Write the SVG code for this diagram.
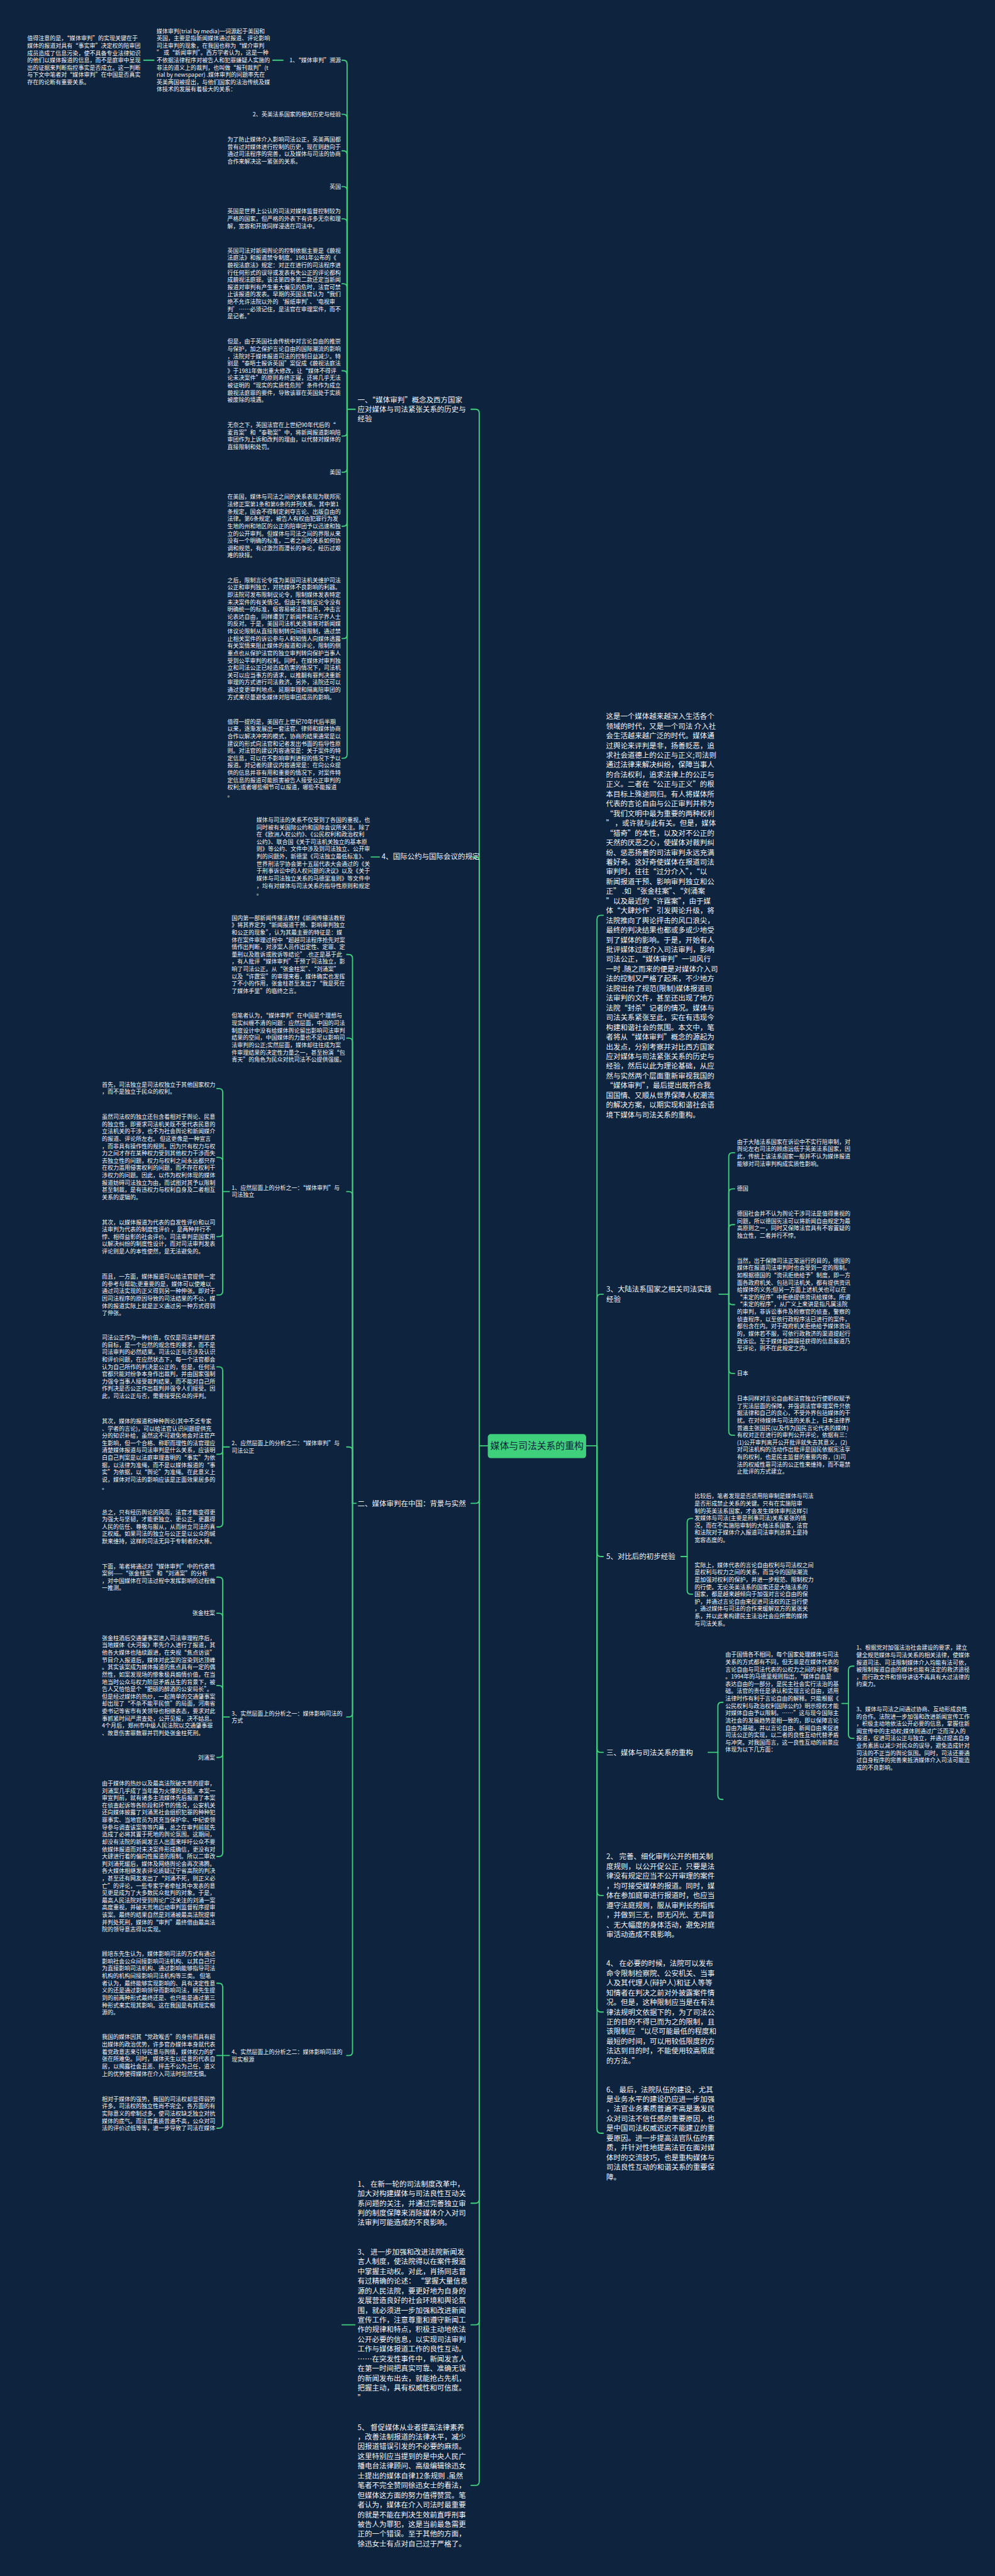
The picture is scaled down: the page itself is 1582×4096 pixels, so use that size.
<svg xmlns="http://www.w3.org/2000/svg" width="1582" height="4096" viewBox="0 0 1582 4096">
<style>
.t{font-family:"Noto Sans CJK SC","Noto Sans",sans-serif;font-size:14.6px;fill:#f4f4f4}
.t1{font-family:"Noto Sans CJK SC","Noto Sans",sans-serif;font-size:18.6px;fill:#f4f4f4}
.e{text-anchor:end}
.c{fill:none;stroke:#3fd07c;stroke-width:3;stroke-linecap:round;stroke-linejoin:round}
.ctr{font-family:"Noto Sans CJK SC","Noto Sans",sans-serif;font-size:24px;fill:#0d233e;text-anchor:middle}
</style>
<rect width="1582" height="4096" fill="#0d233e"/>
<g transform="scale(0.61797)">
<g id="connectors">
<path class="c" d="M1233 3720H1255"/>
<path class="c" d="M1212 1053H1223Q1233 1053 1233 1063V3720"/>
<path class="c" d="M1212 2205H1223Q1233 2205 1233 2215V3720"/>
<path class="c" d="M1212 3868H1223Q1233 3868 1233 3858V3720"/>
<path class="c" d="M1212 5669H1223Q1233 5669 1233 5659V3720"/>
<path class="c" d="M1212 5982H1223Q1233 5982 1233 5972V3720"/>
<path class="c" d="M1212 6395H1223Q1233 6395 1233 6385V3720"/>
<path class="c" d="M1508 3720H1536"/>
<path class="c" d="M1552 2355H1546Q1536 2355 1536 2365V3720"/>
<path class="c" d="M1552 3330H1546Q1536 3330 1536 3340V3720"/>
<path class="c" d="M1552 4005H1546Q1536 4005 1536 3995V3720"/>
<path class="c" d="M1552 4509H1546Q1536 4509 1536 4499V3720"/>
<path class="c" d="M1552 4877H1546Q1536 4877 1536 4867V3720"/>
<path class="c" d="M1552 5177H1546Q1536 5177 1536 5167V3720"/>
<path class="c" d="M1552 5489H1546Q1536 5489 1536 5479V3720"/>
<path class="c" d="M893 1053H914"/>
<path class="c" d="M880 155H883Q893 155 893 165V1053"/>
<path class="c" d="M880 294H883Q893 294 893 304V1053"/>
<path class="c" d="M880 388H883Q893 388 893 398V1053"/>
<path class="c" d="M880 480H883Q893 480 893 490V1053"/>
<path class="c" d="M880 563H883Q893 563 893 573V1053"/>
<path class="c" d="M880 730H883Q893 730 893 740V1053"/>
<path class="c" d="M880 954H883Q893 954 893 964V1053"/>
<path class="c" d="M880 1122H883Q893 1122 893 1112V1053"/>
<path class="c" d="M880 1215H883Q893 1215 893 1205V1053"/>
<path class="c" d="M880 1354H883Q893 1354 893 1344V1053"/>
<path class="c" d="M880 1643H883Q893 1643 893 1633V1053"/>
<path class="c" d="M880 1951H883Q893 1951 893 1941V1053"/>
<path class="c" d="M702 155H728"/>
<path class="c" d="M370 155H396"/>
<path class="c" d="M955 2205H976"/>
<path class="c" d="M907 3868H916"/>
<path class="c" d="M892 2456H897Q907 2456 907 2466V3868"/>
<path class="c" d="M892 2671H897Q907 2671 907 2681V3868"/>
<path class="c" d="M892 3066H897Q907 3066 907 3076V3868"/>
<path class="c" d="M892 3723H897Q907 3723 907 3733V3868"/>
<path class="c" d="M892 4418H897Q907 4418 907 4408V3868"/>
<path class="c" d="M892 5289H897Q907 5289 907 5279V3868"/>
<path class="c" d="M573 3066H590"/>
<path class="c" d="M558 2801H563Q573 2801 573 2811V3066"/>
<path class="c" d="M558 2978H563Q573 2978 573 2988V3066"/>
<path class="c" d="M558 3182H563Q573 3182 573 3172V3066"/>
<path class="c" d="M558 3332H563Q573 3332 573 3322V3066"/>
<path class="c" d="M573 3723H590"/>
<path class="c" d="M558 3517H563Q573 3517 573 3527V3723"/>
<path class="c" d="M558 3742H563Q573 3742 573 3732V3723"/>
<path class="c" d="M558 3929H563Q573 3929 573 3919V3723"/>
<path class="c" d="M573 4418H590"/>
<path class="c" d="M558 4058H563Q573 4058 573 4068V4418"/>
<path class="c" d="M558 4151H563Q573 4151 573 4161V4418"/>
<path class="c" d="M558 4337H563Q573 4337 573 4347V4418"/>
<path class="c" d="M558 4522H563Q573 4522 573 4512V4418"/>
<path class="c" d="M558 4777H563Q573 4777 573 4767V4418"/>
<path class="c" d="M573 5289H590"/>
<path class="c" d="M558 5103H563Q573 5103 573 5113V5289"/>
<path class="c" d="M558 5289H573"/>
<path class="c" d="M558 5476H563Q573 5476 573 5466V5289"/>
<path class="c" d="M880 5982H913"/>
<path class="c" d="M1850 3330H1875"/>
<path class="c" d="M1890 2966H1885Q1875 2966 1875 2976V3330"/>
<path class="c" d="M1890 3059H1885Q1875 3059 1875 3069V3330"/>
<path class="c" d="M1890 3151H1885Q1875 3151 1875 3161V3330"/>
<path class="c" d="M1890 3357H1885Q1875 3357 1875 3347V3330"/>
<path class="c" d="M1890 3534H1885Q1875 3534 1875 3524V3330"/>
<path class="c" d="M1890 3693H1885Q1875 3693 1875 3683V3330"/>
<path class="c" d="M1752 4005H1768"/>
<path class="c" d="M1782 3907H1778Q1768 3907 1768 3917V4005"/>
<path class="c" d="M1782 4102H1778Q1768 4102 1768 4092V4005"/>
<path class="c" d="M1822 4509H1847"/>
<path class="c" d="M1860 4380H1857Q1847 4380 1847 4390V4509"/>
<path class="c" d="M1860 4630H1857Q1847 4630 1847 4620V4509"/>
<path class="c" d="M2166 4383H2183"/>
<path class="c" d="M2197 4287H2193Q2183 4287 2183 4297V4383"/>
<path class="c" d="M2197 4473H2193Q2183 4473 2183 4463V4383"/>
</g>

<g id="n-center">
<rect x="1255" y="3690" width="253" height="62" rx="8" fill="#3fd07c"/>
<text class="ctr" x="1381.5" y="3729">媒体与司法关系的重构</text>
</g>

<g id="n-a">
<text class="t1" x="920" y="1035"><tspan x="920">一、“媒体审判”概念及西方国家</tspan><tspan x="920" dy="25">应对媒体与司法紧张关系的历史与</tspan><tspan x="920" dy="25">经验</tspan></text>
</g>
<g id="n-a1"><text class="t e" x="877" y="160">1、“媒体审判”溯源</text></g>
<g id="n-a1a"><text class="t" x="403" y="85"><tspan x="403">媒体审判(trial by media)一词源起于美国和</tspan><tspan x="403" dy="18.8">英国，主要是指新闻媒体通过报道、评论影响</tspan><tspan x="403" dy="18.8">司法审判的现象，在我国也称为“媒介审判</tspan><tspan x="403" dy="18.8">” 或“新闻审判”。西方学者认为，这是一种</tspan><tspan x="403" dy="18.8">不依据法律程序对被告人和犯罪嫌疑人实施的</tspan><tspan x="403" dy="18.8">非法的道义上的裁判，也叫做“报刊裁判”(t</tspan><tspan x="403" dy="18.8">rial by newspaper) .媒体审判的问题率先在</tspan><tspan x="403" dy="18.8">英美两国被提出，与他们国家的法治传统及媒</tspan><tspan x="403" dy="18.8">体技术的发展有着极大的关系：</tspan></text></g>
<g id="n-a1b"><text class="t" x="70" y="104"><tspan x="70">值得注意的是，“媒体审判”的实现关键在于</tspan><tspan x="70" dy="18.8">媒体的报道对具有“事实审”决定权的陪审团</tspan><tspan x="70" dy="18.8">成员造成了信息污染，使不具备专业法律知识</tspan><tspan x="70" dy="18.8">的他们以媒体报道的信息，而不是庭审中呈现</tspan><tspan x="70" dy="18.8">出的证据来判断指控事实是否成立。这一判断</tspan><tspan x="70" dy="18.8">与下文中笔者对“媒体审判”在中国是否真实</tspan><tspan x="70" dy="18.8">存在的论断有重要关系。</tspan></text></g>
<g id="n-a2"><text class="t e" x="877" y="299">2、英美法系国家的相关历史与经验</text></g>
<g id="n-a3"><text class="t" x="585" y="364"><tspan x="585">为了防止媒体介入影响司法公正，英美两国都</tspan><tspan x="585" dy="18.8">曾有过对媒体进行控制的历史，现在则趋向于</tspan><tspan x="585" dy="18.8">通过司法程序的完善，以及媒体与司法的协商</tspan><tspan x="585" dy="18.8">合作来解决这一紧张的关系。</tspan></text></g>
<g id="n-a4"><text class="t e" x="877" y="485">英国</text></g>
<g id="n-a5"><text class="t" x="585" y="549"><tspan x="585">英国是世界上公认的司法对媒体监督控制较为</tspan><tspan x="585" dy="18.8">严格的国家，但严格的外表下有许多无奈和理</tspan><tspan x="585" dy="18.8">解，宽容和开放同样浸透在司法中。</tspan></text></g>
<g id="n-a6"><text class="t" x="585" y="650"><tspan x="585">英国司法对新闻舆论的控制依据主要是《藐视</tspan><tspan x="585" dy="18.8">法庭法》和报道禁令制度。1981年公布的《</tspan><tspan x="585" dy="18.8">藐视法庭法》规定：对正在进行的司法程序进</tspan><tspan x="585" dy="18.8">行任何形式的误导或发表有失公正的评论都构</tspan><tspan x="585" dy="18.8">成藐视法庭罪。该法第四条第二款还定当新闻</tspan><tspan x="585" dy="18.8">报道对审判有产生重大偏见的危时，法官可禁</tspan><tspan x="585" dy="18.8">止该报道的发表。早期的英国法官认为“我们</tspan><tspan x="585" dy="18.8">绝不允许法院以外的‘报纸审判’、‘电视审</tspan><tspan x="585" dy="18.8">判’……必须记住，是法官在审理案件，而不</tspan><tspan x="585" dy="18.8">是记者。”</tspan></text></g>
<g id="n-a7"><text class="t" x="585" y="884"><tspan x="585">但是，由于英国社会传统中对言论自由的推崇</tspan><tspan x="585" dy="18.8">与保护，加之保护言论自由的国际潮流的影响</tspan><tspan x="585" dy="18.8">，法院对于媒体报道司法的控制日益减少。特</tspan><tspan x="585" dy="18.8">别是“泰晤士报诉英国”案促成《藐视法庭法</tspan><tspan x="585" dy="18.8">》于1981年做出重大修改，让“媒体不得评</tspan><tspan x="585" dy="18.8">论未决案件”的原则寿终正寝，还将几乎无法</tspan><tspan x="585" dy="18.8">被证明的“现实的实质性危险”条件作为成立</tspan><tspan x="585" dy="18.8">藐视法庭罪的要件，导致该罪在英国处于实质</tspan><tspan x="585" dy="18.8">被废除的境遇。</tspan></text></g>
<g id="n-a8"><text class="t" x="585" y="1099"><tspan x="585">无奈之下，英国法官在上世纪90年代后的“</tspan><tspan x="585" dy="18.8">麦肯案”和“泰勒案”中，将新闻报道影响陪</tspan><tspan x="585" dy="18.8">审团作为上诉和改判的理由，以代替对媒体的</tspan><tspan x="585" dy="18.8">直接限制和处罚。</tspan></text></g>
<g id="n-a9"><text class="t e" x="877" y="1220">美国</text></g>
<g id="n-a10"><text class="t" x="585" y="1284"><tspan x="585">在美国，媒体与司法之间的关系表现为联邦宪</tspan><tspan x="585" dy="18.8">法修正案第1条和第6条的并列关系。其中第1</tspan><tspan x="585" dy="18.8">条规定，国会不得制定剥夺言论、出版自由的</tspan><tspan x="585" dy="18.8">法律。第6条规定，被告人有权由犯罪行为发</tspan><tspan x="585" dy="18.8">生地的州和地区的公正的陪审团予以迅速和独</tspan><tspan x="585" dy="18.8">立的公开审判。但媒体与司法之间的界限从来</tspan><tspan x="585" dy="18.8">没有一个明确的标准，二者之间的关系如何协</tspan><tspan x="585" dy="18.8">调和规范，有过激烈而漫长的争论，经历过艰</tspan><tspan x="585" dy="18.8">难的抉择。</tspan></text></g>
<g id="n-a11"><text class="t" x="585" y="1498"><tspan x="585">之后，限制言论令成为美国司法机关维护司法</tspan><tspan x="585" dy="18.8">公正和审判独立，对抗媒体不良影响的利器。</tspan><tspan x="585" dy="18.8">即法院可发布限制议论令，限制媒体发表特定</tspan><tspan x="585" dy="18.8">未决案件的有关情况。但由于限制议论令没有</tspan><tspan x="585" dy="18.8">明确统一的标准，极容易被法官滥用，冲击言</tspan><tspan x="585" dy="18.8">论表达自由，同样遭到了新闻界和法学界人士</tspan><tspan x="585" dy="18.8">的反对。于是，美国司法机关逐渐将对新闻媒</tspan><tspan x="585" dy="18.8">体议论限制从直接限制转向间接限制，通过禁</tspan><tspan x="585" dy="18.8">止相关案件的诉讼参与人和知情人向媒体透露</tspan><tspan x="585" dy="18.8">有关案情来阻止媒体的报道和评论，限制的侧</tspan><tspan x="585" dy="18.8">重点也从保护法官的独立审判转向保护当事人</tspan><tspan x="585" dy="18.8">受到公平审判的权利。同时，在媒体对审判独</tspan><tspan x="585" dy="18.8">立和司法公正已经造成危害的情况下，司法机</tspan><tspan x="585" dy="18.8">关可以应当事方的请求，以推翻有罪判决重新</tspan><tspan x="585" dy="18.8">审理的方式进行司法救济。另外，法院还可以</tspan><tspan x="585" dy="18.8">通过变更审判地点、延期审理和隔离陪审团的</tspan><tspan x="585" dy="18.8">方式来尽量避免媒体对陪审团成员的影响。</tspan></text></g>
<g id="n-a12"><text class="t" x="585" y="1862"><tspan x="585">值得一提的是，美国在上世纪70年代后半期</tspan><tspan x="585" dy="18.8">以来，逐渐发展出一套法官、律师和媒体协商</tspan><tspan x="585" dy="18.8">合作以解决冲突的模式，协商的结果通常是以</tspan><tspan x="585" dy="18.8">建议的形式向法官和记者发出书面的指导性原</tspan><tspan x="585" dy="18.8">则。对法官的建议内容通常是：关于案件的特</tspan><tspan x="585" dy="18.8">定信息，可以在不影响审判进程的情况下予以</tspan><tspan x="585" dy="18.8">报道。对记者的建议内容通常是：在向公众提</tspan><tspan x="585" dy="18.8">供的信息并非有用和重要的情况下，对案件特</tspan><tspan x="585" dy="18.8">定信息的报道可能损害被告人接受公正审判的</tspan><tspan x="585" dy="18.8">权利;或者哪些细节可以报道，哪些不能报道</tspan><tspan x="585" dy="18.8">。</tspan></text></g>

<g id="n-b"><text class="t1" x="982" y="2211">4、国际公约与国际会议的规定</text></g>
<g id="n-b1"><text class="t" x="660" y="2115"><tspan x="660">媒体与司法的关系不仅受到了各国的重视，也</tspan><tspan x="660" dy="18.8">同时被有关国际公约和国际会议所关注。除了</tspan><tspan x="660" dy="18.8">在《欧洲人权公约》、《公民权利和政治权利</tspan><tspan x="660" dy="18.8">公约》、联合国《关于司法机关独立的基本原</tspan><tspan x="660" dy="18.8">则》等公约、文件中涉及到司法独立、公开审</tspan><tspan x="660" dy="18.8">判的问题外，新德里《司法独立最低标准》、</tspan><tspan x="660" dy="18.8">世界刑法学协会第十五届代表大会通过的《关</tspan><tspan x="660" dy="18.8">于刑事诉讼中的人权问题的决议》以及《关于</tspan><tspan x="660" dy="18.8">媒体与司法独立关系的马德里准则》等文件中</tspan><tspan x="660" dy="18.8">，均有对媒体与司法关系的指导性原则和规定</tspan><tspan x="660" dy="18.8">。</tspan></text></g>

<g id="n-c"><text class="t1" x="920" y="3875">二、媒体审判在中国：背景与实然</text></g>
<g id="n-c1"><text class="t" x="596" y="2367"><tspan x="596">国内第一部新闻传播法教材《新闻传播法教程</tspan><tspan x="596" dy="18.8">》将其界定为“新闻报道干预、影响审判独立</tspan><tspan x="596" dy="18.8">和公正的现象”，认为其最主要的特征是：媒</tspan><tspan x="596" dy="18.8">体在案件审理过程中“超越司法程序抢先对案</tspan><tspan x="596" dy="18.8">情作出判断，对涉案人员作出定性、定罪、定</tspan><tspan x="596" dy="18.8">量刑以及胜诉或败诉等结论” .也正是基于此</tspan><tspan x="596" dy="18.8">，有人批评“媒体审判”干预了司法独立，影</tspan><tspan x="596" dy="18.8">响了司法公正。从“张金柱案”、“刘涌案”</tspan><tspan x="596" dy="18.8">以及“许霆案”的审理来看，媒体确实也发挥</tspan><tspan x="596" dy="18.8">了不小的作用，张金柱甚至发出了“我是死在</tspan><tspan x="596" dy="18.8">了媒体手里”的临终之言。</tspan></text></g>
<g id="n-c2"><text class="t" x="596" y="2619"><tspan x="596">但笔者认为，“媒体审判”在中国是个理想与</tspan><tspan x="596" dy="18.8">现实纠缠不清的问题：应然层面，中国的司法</tspan><tspan x="596" dy="18.8">制度设计中没有给媒体舆论留出影响司法审判</tspan><tspan x="596" dy="18.8">结果的空间，中国媒体的力量也不足以影响司</tspan><tspan x="596" dy="18.8">法审判的公正;实然层面，媒体却往往成为案</tspan><tspan x="596" dy="18.8">件审理结果的决定性力量之一，甚至扮演“包</tspan><tspan x="596" dy="18.8">青天”的角色为民众对抗司法不公提供强援。</tspan></text></g>
<g id="n-c3"><text class="t" x="596" y="3061"><tspan x="596">1、应然层面上的分析之一：“媒体审判”与</tspan><tspan x="596" dy="18.8">司法独立</tspan></text></g>
<g id="n-c3a"><text class="t" x="262" y="2796"><tspan x="262">首先，司法独立是司法权独立于其他国家权力</tspan><tspan x="262" dy="18.8">，而不是独立于民众的权利。</tspan></text></g>
<g id="n-c3b"><text class="t" x="262" y="2879"><tspan x="262">虽然司法权的独立还包含着相对于舆论、民意</tspan><tspan x="262" dy="18.8">的独立性，即要求司法机关既不受代表民意的</tspan><tspan x="262" dy="18.8">立法机关的干涉，也不为社会舆论和新闻媒介</tspan><tspan x="262" dy="18.8">的报道、评论所左右。 但这更像是一种宣言</tspan><tspan x="262" dy="18.8">，而非具有操作性的规则。因为只有权力与权</tspan><tspan x="262" dy="18.8">力之间才存在某种权力受到其他权力干涉而失</tspan><tspan x="262" dy="18.8">去独立性的问题，权力与权利之间永远都只存</tspan><tspan x="262" dy="18.8">在权力滥用侵害权利的问题，而不存在权利干</tspan><tspan x="262" dy="18.8">涉权力的问题。因此，以作为权利体现的媒体</tspan><tspan x="262" dy="18.8">报道妨碍司法独立为由，而试图对其予以限制</tspan><tspan x="262" dy="18.8">甚至制裁，是有违权力与权利自身及二者相互</tspan><tspan x="262" dy="18.8">关系的逻辑的。</tspan></text></g>
<g id="n-c3c"><text class="t" x="262" y="3150"><tspan x="262">其次，以媒体报道为代表的自发性评价和以司</tspan><tspan x="262" dy="18.8">法审判为代表的制度性评价 ，是两种并行不</tspan><tspan x="262" dy="18.8">悖、相得益彰的社会评价。司法审判是国家用</tspan><tspan x="262" dy="18.8">以解决纠纷的制度性设计，而对司法审判发表</tspan><tspan x="262" dy="18.8">评论则是人的本性使然，是无法避免的。</tspan></text></g>
<g id="n-c3d"><text class="t" x="262" y="3290"><tspan x="262">而且，一方面，媒体报道可以给法官提供一定</tspan><tspan x="262" dy="18.8">的参考与帮助;更重要的是，媒体可以使难以</tspan><tspan x="262" dy="18.8">通过司法实现的正义得到另一种伸张。即对于</tspan><tspan x="262" dy="18.8">因司法程序的原因导致的司法结果的不公，媒</tspan><tspan x="262" dy="18.8">体的报道实际上就是正义通过另一种方式得到</tspan><tspan x="262" dy="18.8">了伸张。</tspan></text></g>
<g id="n-c4"><text class="t" x="596" y="3719"><tspan x="596">2、应然层面上的分析之二：“媒体审判”与</tspan><tspan x="596" dy="18.8">司法公正</tspan></text></g>
<g id="n-c4a"><text class="t" x="262" y="3447"><tspan x="262">司法公正作为一种价值，仅仅是司法审判追求</tspan><tspan x="262" dy="18.8">的目标，是一个应然的观念性的要求，而不是</tspan><tspan x="262" dy="18.8">司法审判的必然结果。司法公正与否涉及认识</tspan><tspan x="262" dy="18.8">和评价问题，在应然状态下，每一个法官都会</tspan><tspan x="262" dy="18.8">认为自己所作的判决是公正的，但是，任何法</tspan><tspan x="262" dy="18.8">官都只能对纷争本身作出裁判，并由国家强制</tspan><tspan x="262" dy="18.8">力强令当事人接受裁判结果，而不能对自己所</tspan><tspan x="262" dy="18.8">作判决是否公正作出裁判并强令人们接受。因</tspan><tspan x="262" dy="18.8">此，司法公正与否，需要接受民众的评判。</tspan></text></g>
<g id="n-c4b"><text class="t" x="262" y="3662"><tspan x="262">其次，媒体的报道和种种舆论(其中不乏专家</tspan><tspan x="262" dy="18.8">、学者的言论)，可以给法官认识问题提供充</tspan><tspan x="262" dy="18.8">分的知识补给，虽然这不可避免地会对法官产</tspan><tspan x="262" dy="18.8">生影响，但一个合格、称职而理性的法官理应</tspan><tspan x="262" dy="18.8">清楚媒体报道与司法审判是什么关系，应该明</tspan><tspan x="262" dy="18.8">白自己判案是以法庭审理查明的“事实”为依</tspan><tspan x="262" dy="18.8">据，以法律为准绳，而不是以媒体报道的“事</tspan><tspan x="262" dy="18.8">实”为依据，以“舆论”为准绳。在此意义上</tspan><tspan x="262" dy="18.8">说，媒体对司法的影响应该是正面效果居多的</tspan><tspan x="262" dy="18.8">。</tspan></text></g>
<g id="n-c4c"><text class="t" x="262" y="3896"><tspan x="262">总之，只有经历舆论的风雨，法官才能变得更</tspan><tspan x="262" dy="18.8">为强大与坚韧，才能更独立、更公正，更赢得</tspan><tspan x="262" dy="18.8">人民的信任、尊敬与服从，从而树立司法的真</tspan><tspan x="262" dy="18.8">正权威。如果司法的独立与公正是以公众的缄</tspan><tspan x="262" dy="18.8">默来维持，这样的司法无异于专制者的大棒。</tspan></text></g>
<g id="n-c5"><text class="t" x="596" y="4414"><tspan x="596">3、实然层面上的分析之一：媒体影响司法的</tspan><tspan x="596" dy="18.8">方式</tspan></text></g>
<g id="n-c5a"><text class="t" x="262" y="4035"><tspan x="262">下面，笔者将通过对“媒体审判”中的代表性</tspan><tspan x="262" dy="18.8">案例——“张金柱案”和“刘涌案”的分析</tspan><tspan x="262" dy="18.8">，对中国媒体在司法过程中发挥影响的过程做</tspan><tspan x="262" dy="18.8">一推测。</tspan></text></g>
<g id="n-c5b"><text class="t e" x="553" y="4156">张金柱案</text></g>
<g id="n-c5c"><text class="t" x="262" y="4220"><tspan x="262">张金柱酒后交通肇事案进入司法审理程序后，</tspan><tspan x="262" dy="18.8">当地媒体《大河报》率先介入进行了报道，其</tspan><tspan x="262" dy="18.8">他各大媒体也陆续跟进，在央视“焦点访谈”</tspan><tspan x="262" dy="18.8">节目介入报道后，媒体对此案的渲染到达顶峰</tspan><tspan x="262" dy="18.8">。其实该案成为媒体报道的焦点具有一定的偶</tspan><tspan x="262" dy="18.8">然性，如案发现场的惨象极具煽情价值，在当</tspan><tspan x="262" dy="18.8">地当时公众与权力阶层矛盾丛生的背景下，被</tspan><tspan x="262" dy="18.8">告人又恰恰是个“肥硕的醉酒的公安局长”。</tspan><tspan x="262" dy="18.8">但是经过媒体的热炒，一起简单的交通肇事案</tspan><tspan x="262" dy="18.8">却出现了“不杀不能平民愤”的局面，河南省</tspan><tspan x="262" dy="18.8">委书记等省市有关领导也相继表态，要求对此</tspan><tspan x="262" dy="18.8">事抓紧时间严肃查处，公开见报，决不姑息。</tspan><tspan x="262" dy="18.8">4个月后，郑州市中级人民法院以交通肇事罪</tspan><tspan x="262" dy="18.8">、故意伤害罪数罪并罚判处张金柱死刑。</tspan></text></g>
<g id="n-c5d"><text class="t e" x="553" y="4527">刘涌案</text></g>
<g id="n-c5e"><text class="t" x="262" y="4594"><tspan x="262">由于媒体的热炒以及最高法院破天荒的提审，</tspan><tspan x="262" dy="18.8">刘涌案几乎成了当年最为火爆的话题。本案一</tspan><tspan x="262" dy="18.8">审宣判前，就有诸多主流媒体先后报道了本案</tspan><tspan x="262" dy="18.8">在侦查起诉等各阶段和环节的情况，公安机关</tspan><tspan x="262" dy="18.8">还向媒体披露了刘涌黑社会组织犯罪的种种犯</tspan><tspan x="262" dy="18.8">罪事实、当地官员为其充当保护伞、中纪委领</tspan><tspan x="262" dy="18.8">导参与调查该案等等内幕，总之在审判前就先</tspan><tspan x="262" dy="18.8">造成了必将其置于死地的舆论氛围。这期间，</tspan><tspan x="262" dy="18.8">却没有法院的新闻发言人出面来呼吁公众不要</tspan><tspan x="262" dy="18.8">依媒体报道而对未决案件形成确信，更没有对</tspan><tspan x="262" dy="18.8">大肆进行着的偏向性报道的限制。所以二审改</tspan><tspan x="262" dy="18.8">判刘涌死缓后，媒体及网络舆论会再次沸腾。</tspan><tspan x="262" dy="18.8">各大媒体相继发表评论质疑辽宁省高院的判决</tspan><tspan x="262" dy="18.8">，甚至还有网友发出了“刘涌不死，则正义必</tspan><tspan x="262" dy="18.8">亡”的评论，一些专家学者牵扯其中发表的意</tspan><tspan x="262" dy="18.8">见更是成为了大多数民众批判的对象。于是，</tspan><tspan x="262" dy="18.8">最高人民法院对受到舆论广泛关注的刘涌一案</tspan><tspan x="262" dy="18.8">高度重视，并破天荒地启动审判监督程序提审</tspan><tspan x="262" dy="18.8">该案。最终的结果自然是刘涌被最高法院提审</tspan><tspan x="262" dy="18.8">并判处死刑，媒体的“审判”最终借由最高法</tspan><tspan x="262" dy="18.8">院的领导意志得以实现。</tspan></text></g>
<g id="n-c6"><text class="t" x="596" y="5285"><tspan x="596">4、实然层面上的分析之二：媒体影响司法的</tspan><tspan x="596" dy="18.8">现实根源</tspan></text></g>
<g id="n-c6a"><text class="t" x="262" y="5033"><tspan x="262">顾培东先生认为，媒体影响司法的方式有通过</tspan><tspan x="262" dy="18.8">影响社会公众间接影响司法机构、以其自己行</tspan><tspan x="262" dy="18.8">为直接影响司法机构、通过影响能够指导司法</tspan><tspan x="262" dy="18.8">机构的机构间接影响司法机构等三类。 但笔</tspan><tspan x="262" dy="18.8">者认为，最终能够实现影响的、具有决定性意</tspan><tspan x="262" dy="18.8">义的还是通过影响领导而影响司法，顾先生提</tspan><tspan x="262" dy="18.8">到的前两种形式最终还是、也只能是通过第三</tspan><tspan x="262" dy="18.8">种形式来实现其影响。这在我国是有其现实根</tspan><tspan x="262" dy="18.8">源的。</tspan></text></g>
<g id="n-c6b"><text class="t" x="262" y="5247"><tspan x="262">我国的媒体因其“党政喉舌”的身份而具有超</tspan><tspan x="262" dy="18.8">出媒体的政治优势，许多官办媒体本身就代表</tspan><tspan x="262" dy="18.8">着党政意志来引导民意与舆情，媒体权力的扩</tspan><tspan x="262" dy="18.8">张在所难免。同时，媒体天生以民意的代表自</tspan><tspan x="262" dy="18.8">居，以揭露社会丑恶、抨击不公为己任，道义</tspan><tspan x="262" dy="18.8">上的优势使得媒体在介入司法时坦然无惧。</tspan></text></g>
<g id="n-c6c"><text class="t" x="262" y="5406"><tspan x="262">相对于媒体的强势，我国的司法权却显得弱势</tspan><tspan x="262" dy="18.8">许多。司法权的独立性尚不完全，各方面的有</tspan><tspan x="262" dy="18.8">实际意义的牵制过多，使司法权缺乏独立对抗</tspan><tspan x="262" dy="18.8">媒体的底气。而法官素质普遍不高，公众对司</tspan><tspan x="262" dy="18.8">法的评价过低等等，进一步导致了司法在媒体</tspan></text></g>

<g id="n-d1"><text class="t1" x="920" y="5626"><tspan x="920">1、 在新一轮的司法制度改革中，</tspan><tspan x="920" dy="25">加大对构建媒体与司法良性互动关</tspan><tspan x="920" dy="25">系问题的关注，并通过完善独立审</tspan><tspan x="920" dy="25">判的制度保障来消除媒体介入对司</tspan><tspan x="920" dy="25">法审判可能造成的不良影响。</tspan></text></g>
<g id="n-d3"><text class="t1" x="920" y="5801"><tspan x="920">3、 进一步加强和改进法院新闻发</tspan><tspan x="920" dy="25">言人制度，使法院得以在案件报道</tspan><tspan x="920" dy="25">中掌握主动权。对此，肖扬同志曾</tspan><tspan x="920" dy="25">有过精确的论述： “掌握大量信息</tspan><tspan x="920" dy="25">源的人民法院，要更好地为自身的</tspan><tspan x="920" dy="25">发展营造良好的社会环境和舆论氛</tspan><tspan x="920" dy="25">围，就必须进一步加强和改进新闻</tspan><tspan x="920" dy="25">宣传工作，注意尊重和遵守新闻工</tspan><tspan x="920" dy="25">作的规律和特点，积极主动地依法</tspan><tspan x="920" dy="25">公开必要的信息，以实现司法审判</tspan><tspan x="920" dy="25">工作与媒体报道工作的良性互动。</tspan><tspan x="920" dy="25">……在突发性事件中，新闻发言人</tspan><tspan x="920" dy="25">在第一时间把真实可靠、准确无误</tspan><tspan x="920" dy="25">的新闻发布出去，就能抢占先机，</tspan><tspan x="920" dy="25">把握主动，具有权威性和可信度。</tspan><tspan x="920" dy="25">”</tspan></text></g>
<g id="n-d5"><text class="t1" x="920" y="6252"><tspan x="920">5、 督促媒体从业者提高法律素养</tspan><tspan x="920" dy="25">，改善法制报道的法律水平，减少</tspan><tspan x="920" dy="25">因报道错误引发的不必要的麻烦。</tspan><tspan x="920" dy="25">这里特别应当提到的是中央人民广</tspan><tspan x="920" dy="25">播电台法律顾问、高级编辑徐迅女</tspan><tspan x="920" dy="25">士提出的媒体自律12条规则 .虽然</tspan><tspan x="920" dy="25">笔者不完全赞同徐迅女士的看法，</tspan><tspan x="920" dy="25">但媒体这方面的努力值得赞赏。笔</tspan><tspan x="920" dy="25">者认为，媒体在介入司法时最重要</tspan><tspan x="920" dy="25">的就是不能在判决生效前直呼刑事</tspan><tspan x="920" dy="25">被告人为罪犯，这是当前最急需更</tspan><tspan x="920" dy="25">正的一个错误。至于其他的方面，</tspan><tspan x="920" dy="25">徐迅女士有点对自己过于严格了。</tspan></text></g>

<g id="n-r0"><text class="t1" x="1559" y="1850"><tspan x="1559">这是一个媒体越来越深入生活各个</tspan><tspan x="1559" dy="25">领域的时代，又是一个司法 介入社</tspan><tspan x="1559" dy="25">会生活越来越广泛的时代。媒体通</tspan><tspan x="1559" dy="25">过舆论来评判是非，扬善贬恶，追</tspan><tspan x="1559" dy="25">求社会道德上的公正与正义;司法则</tspan><tspan x="1559" dy="25">通过法律来解决纠纷，保障当事人</tspan><tspan x="1559" dy="25">的合法权利，追求法律上的公正与</tspan><tspan x="1559" dy="25">正义。二者在“公正与正义”的根</tspan><tspan x="1559" dy="25">本目标上殊途同归。有人将媒体所</tspan><tspan x="1559" dy="25">代表的言论自由与公正审判并称为</tspan><tspan x="1559" dy="25">“我们文明中最为重要的两种权利</tspan><tspan x="1559" dy="25">” ，或许就与此有关。但是，媒体</tspan><tspan x="1559" dy="25">“猎奇”的本性，以及对不公正的</tspan><tspan x="1559" dy="25">天然的厌恶之心，使媒体对裁判纠</tspan><tspan x="1559" dy="25">纷、惩恶扬善的司法审判永远充满</tspan><tspan x="1559" dy="25">着好奇。这好奇使媒体在报道司法</tspan><tspan x="1559" dy="25">审判时，往往“过分介入”，“以</tspan><tspan x="1559" dy="25">新闻报道干预、影响审判独立和公</tspan><tspan x="1559" dy="25">正” .如 “张金柱案”、“刘涌案</tspan><tspan x="1559" dy="25">”以及最近的“许霆案”，由于媒</tspan><tspan x="1559" dy="25">体“大肆炒作”引发舆论升级，将</tspan><tspan x="1559" dy="25">法院推向了舆论抨击的风口浪尖，</tspan><tspan x="1559" dy="25">最终的判决结果也都或多或少地受</tspan><tspan x="1559" dy="25">到了媒体的影响。于是，开始有人</tspan><tspan x="1559" dy="25">批评媒体过度介入司法审判，影响</tspan><tspan x="1559" dy="25">司法公正，“媒体审判”一词风行</tspan><tspan x="1559" dy="25">一时 .随之而来的便是对媒体介入司</tspan><tspan x="1559" dy="25">法的控制又严格了起来，不少地方</tspan><tspan x="1559" dy="25">法院出台了规范(限制)媒体报道司</tspan><tspan x="1559" dy="25">法审判的文件，甚至还出现了地方</tspan><tspan x="1559" dy="25">法院“封杀”记者的情况。媒体与</tspan><tspan x="1559" dy="25">司法关系紧张至此，实在有违现今</tspan><tspan x="1559" dy="25">构建和谐社会的氛围。本文中，笔</tspan><tspan x="1559" dy="25">者将从“媒体审判”概念的源起为</tspan><tspan x="1559" dy="25">出发点，分别考察并对比西方国家</tspan><tspan x="1559" dy="25">应对媒体与司法紧张关系的历史与</tspan><tspan x="1559" dy="25">经验，然后以此为理论基础，从应</tspan><tspan x="1559" dy="25">然与实然两个层面重新审视我国的</tspan><tspan x="1559" dy="25">“媒体审判”，最后提出既符合我</tspan><tspan x="1559" dy="25">国国情、又顺从世界保障人权潮流</tspan><tspan x="1559" dy="25">的解决方案，以期实现和谐社会语</tspan><tspan x="1559" dy="25">境下媒体与司法关系的重构。</tspan></text></g>

<g id="n-r3"><text class="t1" x="1560" y="3324"><tspan x="1560">3、大陆法系国家之相关司法实践</tspan><tspan x="1560" dy="25">经验</tspan></text></g>
<g id="n-r3a"><text class="t" x="1896" y="2943"><tspan x="1896">由于大陆法系国家在诉讼中不实行陪审制，对</tspan><tspan x="1896" dy="18.8">舆论左右司法的顾虑远低于英美法系国家，因</tspan><tspan x="1896" dy="18.8">此，传统上该法系国家一般并不认为媒体报道</tspan><tspan x="1896" dy="18.8">能够对司法审判构成实质性影响。</tspan></text></g>
<g id="n-r3b"><text class="t" x="1896" y="3064">德国</text></g>
<g id="n-r3c"><text class="t" x="1896" y="3128"><tspan x="1896">德国社会并不认为舆论干涉司法是值得重视的</tspan><tspan x="1896" dy="18.8">问题，所以德国宪法可以将新闻自由规定为最</tspan><tspan x="1896" dy="18.8">高原则之一，同时又保障法官具有不容置疑的</tspan><tspan x="1896" dy="18.8">独立性，二者并行不悖。</tspan></text></g>
<g id="n-r3d"><text class="t" x="1896" y="3249"><tspan x="1896">当然，出于保障司法正常运行的目的，德国的</tspan><tspan x="1896" dy="18.8">媒体在报道司法审判时也会受到一定的限制。</tspan><tspan x="1896" dy="18.8">如根据德国的“资讯拒绝给予”制度，即一方</tspan><tspan x="1896" dy="18.8">面各政府机关、包括司法机关，都有提供资讯</tspan><tspan x="1896" dy="18.8">给媒体的义务;但另一方面上述机关也可以在</tspan><tspan x="1896" dy="18.8">“未定的程序”中拒绝提供资讯给媒体。所谓</tspan><tspan x="1896" dy="18.8">“未定的程序”，从广义上来讲是指凡属法院</tspan><tspan x="1896" dy="18.8">的审判，非诉讼事件及检察官的侦查，警察的</tspan><tspan x="1896" dy="18.8">侦查程序，以至依行政程序法已进行的案件，</tspan><tspan x="1896" dy="18.8">都包含在内。对于政府机关拒绝给予媒体资讯</tspan><tspan x="1896" dy="18.8">的，媒体若不服，可依行政救济的渠道提起行</tspan><tspan x="1896" dy="18.8">政诉讼。至于媒体自辟蹊径获得的信息报道乃</tspan><tspan x="1896" dy="18.8">至评论，则不在此规定之内。</tspan></text></g>
<g id="n-r3e"><text class="t" x="1896" y="3539">日本</text></g>
<g id="n-r3f"><text class="t" x="1896" y="3604"><tspan x="1896">日本同样对言论自由和法官独立行使职权赋予</tspan><tspan x="1896" dy="18.8">了宪法层面的保障，并强调法官审理案件只依</tspan><tspan x="1896" dy="18.8">据法律和自己的良心，不受外界包括媒体的干</tspan><tspan x="1896" dy="18.8">扰。在对待媒体与司法的关系上，日本法律界</tspan><tspan x="1896" dy="18.8">普遍主张国民(以及作为国民言论代表的媒体)</tspan><tspan x="1896" dy="18.8">有权对正在进行的审判公开评论，依据有三：</tspan><tspan x="1896" dy="18.8">(1)公开审判离开公开批评就失去其意义，(2)</tspan><tspan x="1896" dy="18.8">对司法机构的活动作出批评是国民依据宪法享</tspan><tspan x="1896" dy="18.8">有的权利，也是民主监督的重要内容，(3)司</tspan><tspan x="1896" dy="18.8">法的权威性靠司法的公正性来维持，而不靠禁</tspan><tspan x="1896" dy="18.8">止批评的方式建立。</tspan></text></g>

<g id="n-r5"><text class="t1" x="1560" y="4012">5、对比后的初步经验</text></g>
<g id="n-r5a"><text class="t" x="1787" y="3855"><tspan x="1787">比较后，笔者发现是否适用陪审制是媒体与司法</tspan><tspan x="1787" dy="18.8">是否形成禁止关系的关键。只有在实施陪审</tspan><tspan x="1787" dy="18.8">制的英美法系国家，才会发生媒体审判这样引</tspan><tspan x="1787" dy="18.8">发媒体与司法(主要是刑事司法)关系紧张的情</tspan><tspan x="1787" dy="18.8">况，而在不实施陪审制的大陆法系国家，法官</tspan><tspan x="1787" dy="18.8">和法院对于媒体介入报道司法审判总体上是持</tspan><tspan x="1787" dy="18.8">宽容态度的。</tspan></text></g>
<g id="n-r5b"><text class="t" x="1787" y="4032"><tspan x="1787">实际上，媒体代表的言论自由权利与司法权之间</tspan><tspan x="1787" dy="18.8">是权利与权力之间的关系，而当今的国际潮流</tspan><tspan x="1787" dy="18.8">是加强对权利的保护，并进一步规范、限制权力</tspan><tspan x="1787" dy="18.8">的行使。无论英美法系的国家还是大陆法系的</tspan><tspan x="1787" dy="18.8">国家，都是越来越倾向于加强对言论自由的保</tspan><tspan x="1787" dy="18.8">护，并通过言论自由来促进司法权的正当行使</tspan><tspan x="1787" dy="18.8">，通过媒体与司法的合作来缓解双方的紧张关</tspan><tspan x="1787" dy="18.8">系，并以此来构建民主法治社会应所需的媒体</tspan><tspan x="1787" dy="18.8">与司法关系。</tspan></text></g>

<g id="n-r6"><text class="t1" x="1560" y="4516">三、媒体与司法关系的重构</text></g>
<g id="n-r6a"><text class="t" x="1866" y="4263"><tspan x="1866">由于国情各不相同，每个国家处理媒体与司法</tspan><tspan x="1866" dy="18.8">关系的方式都有不同，但无非是在媒体代表的</tspan><tspan x="1866" dy="18.8">言论自由与司法代表的公权力之间的寻找平衡</tspan><tspan x="1866" dy="18.8">。1994年的马德里规则指出，“媒体自由是</tspan><tspan x="1866" dy="18.8">表达自由的一部分，是民主社会实行法治的基</tspan><tspan x="1866" dy="18.8">础。法官的责任是承认和实现言论自由，适用</tspan><tspan x="1866" dy="18.8">法律时作有利于言论自由的解释。只能根据《</tspan><tspan x="1866" dy="18.8">公民权利与政治权利国际公约》明示授权才能</tspan><tspan x="1866" dy="18.8">对媒体自由予以限制。……”这与现今国际主</tspan><tspan x="1866" dy="18.8">流社会的发展趋势是相一致的，即以保障言论</tspan><tspan x="1866" dy="18.8">自由为基础，并以言论自由、新闻自由来促进</tspan><tspan x="1866" dy="18.8">司法公正的实现，以二者的良性互动代替矛盾</tspan><tspan x="1866" dy="18.8">与冲突。对我国而言，这一良性互动的前景应</tspan><tspan x="1866" dy="18.8">体现为以下几方面：</tspan></text></g>
<g id="n-r6a1"><text class="t" x="2203" y="4245"><tspan x="2203">1、根据党对加强法治社会建设的要求，建立</tspan><tspan x="2203" dy="18.8">健全规范媒体与司法关系的相关法律，使媒体</tspan><tspan x="2203" dy="18.8">报道司法、司法限制媒体介入均能有法可依，</tspan><tspan x="2203" dy="18.8">被限制报道自由的媒体也能有法定的救济途径</tspan><tspan x="2203" dy="18.8">，而行政文件和领导讲话不再具有大过法律的</tspan><tspan x="2203" dy="18.8">约束力。</tspan></text></g>
<g id="n-r6a3"><text class="t" x="2203" y="4403"><tspan x="2203">3、媒体与司法之间通过协商、互动形成良性</tspan><tspan x="2203" dy="18.8">的合作。法院进一步加强和改进新闻宣传工作</tspan><tspan x="2203" dy="18.8">，积极主动地依法公开必要的信息，掌握住新</tspan><tspan x="2203" dy="18.8">闻宣传中的主动权;媒体则通过广泛而深入的</tspan><tspan x="2203" dy="18.8">报道，促进司法公正与独立，并通过提高自身</tspan><tspan x="2203" dy="18.8">业务素质以减少对民众的误导，避免造成针对</tspan><tspan x="2203" dy="18.8">司法的不正当的舆论氛围。同时，司法还要通</tspan><tspan x="2203" dy="18.8">过自身程序的完善来抵消媒体介入司法可能造</tspan><tspan x="2203" dy="18.8">成的不良影响。</tspan></text></g>

<g id="n-r7"><text class="t1" x="1560" y="4784"><tspan x="1560">2、 完善、细化审判公开的相关制</tspan><tspan x="1560" dy="25">度规则，以公开促公正，只要是法</tspan><tspan x="1560" dy="25">律没有规定应当不公开审理的案件</tspan><tspan x="1560" dy="25">，均可接受媒体的报道。同时，媒</tspan><tspan x="1560" dy="25">体在参加庭审进行报道时，也应当</tspan><tspan x="1560" dy="25">遵守法庭规则，服从审判长的指挥</tspan><tspan x="1560" dy="25">，并做到三无，即无闪光、无声音</tspan><tspan x="1560" dy="25">、无大幅度的身体活动，避免对庭</tspan><tspan x="1560" dy="25">审活动造成不良影响。</tspan></text></g>
<g id="n-r8"><text class="t1" x="1560" y="5059"><tspan x="1560">4、 在必要的时候，法院可以发布</tspan><tspan x="1560" dy="25">命令限制检察院、公安机关、当事</tspan><tspan x="1560" dy="25">人及其代理人(辩护人)和证人等等</tspan><tspan x="1560" dy="25">知情者在判决之前对外披露案件情</tspan><tspan x="1560" dy="25">况。但是，这种限制应当是在有法</tspan><tspan x="1560" dy="25">律法规明文依据下的，为了司法公</tspan><tspan x="1560" dy="25">正的目的不得已而为之的限制，且</tspan><tspan x="1560" dy="25">该限制应 “以尽可能最低的程度和</tspan><tspan x="1560" dy="25">最短的时间，可以用较低限度的方</tspan><tspan x="1560" dy="25">法达到目的时，不能使用较高限度</tspan><tspan x="1560" dy="25">的方法。”</tspan></text></g>
<g id="n-r9"><text class="t1" x="1560" y="5383"><tspan x="1560">6、 最后，法院队伍的建设，尤其</tspan><tspan x="1560" dy="25">是业务水平的建设仍应进一步加强</tspan><tspan x="1560" dy="25">，法官业务素质普遍不高是激发民</tspan><tspan x="1560" dy="25">众对司法不信任感的重要原因，也</tspan><tspan x="1560" dy="25">是中国司法权威迟迟不能建立的重</tspan><tspan x="1560" dy="25">要原因。进一步提高法官队伍的素</tspan><tspan x="1560" dy="25">质，并针对性地提高法官在面对媒</tspan><tspan x="1560" dy="25">体时的交流技巧，也是重构媒体与</tspan><tspan x="1560" dy="25">司法良性互动的和谐关系的重要保</tspan><tspan x="1560" dy="25">障。</tspan></text></g>
</g>
</svg>
